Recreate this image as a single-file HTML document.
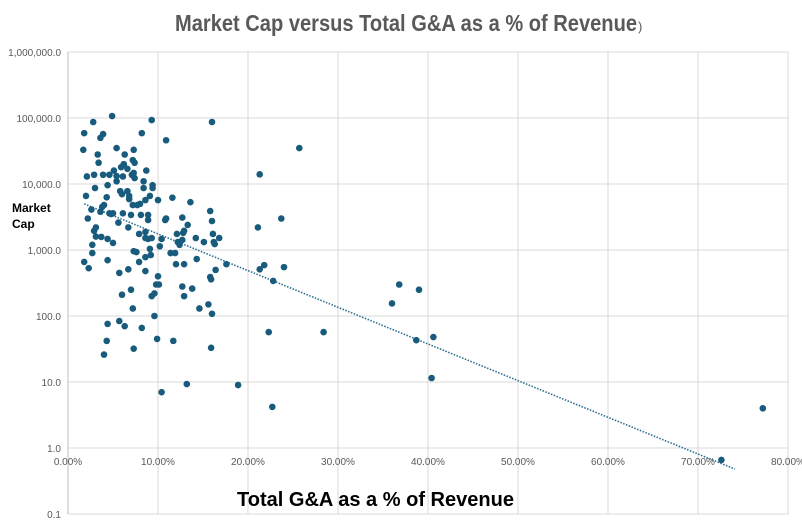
<!DOCTYPE html>
<html><head><meta charset="utf-8"><style>
body{margin:0;background:#fff;}
svg{display:block;font-family:"Liberation Sans",sans-serif;}
</style></head><body>
<svg id="chart" width="802" height="522" viewBox="0 0 802 522">
<text x="175" y="31" font-size="23" font-weight="bold" fill="#595959" textLength="462" lengthAdjust="spacingAndGlyphs">Market Cap versus Total G&amp;A as a % of Revenue</text>
<text x="638" y="31" font-size="13" fill="#595959">)</text>
<g id="grid"></g>
<g id="ticks"></g>
<path id="trend" fill="none" stroke="#2a6f92" stroke-width="1.6" stroke-dasharray="1.5,1.5"/>
<g id="pts"></g>
<text x="12" y="212" font-size="12" font-weight="bold" fill="#000"><tspan x="12">Market</tspan><tspan x="12" dy="16">Cap</tspan></text>
<text x="237" y="506" font-size="20" font-weight="bold" fill="#000" textLength="277" lengthAdjust="spacingAndGlyphs">Total G&amp;A as a % of Revenue</text>
</svg>
<script>
const xTicks=[0,10,20,30,40,50,60,70,80];
const yTicks=[1000000,100000,10000,1000,100,10,1,0.1];
const yTickLabels=["1,000,000.0","100,000.0","10,000.0","1,000.0","100.0","10.0","1.0","0.1"];
const trendX=[1.8,74.1];
const trendY=[5000,0.48];
const gaPct=[4.9,2.8,9.3,16.0,1.8,3.9,3.6,8.2,10.9,1.7,3.3,3.4,5.4,6.3,7.3,7.2,7.4,5.9,6.2,6.6,5.1,8.7,2.1,2.9,3.9,4.6,5.4,6.1,7.1,7.4,7.3,5.4,8.4,9.4,9.4,3.0,4.4,8.4,5.8,6.6,6.0,6.8,6.8,2.0,4.3,9.1,11.6,10.0,8.6,13.6,15.8,16.0,4.0,3.8,3.6,2.6,7.2,7.7,8.0,4.6,5.0,4.8,6.1,7.0,8.1,8.9,8.9,2.2,5.6,6.7,10.9,10.8,12.7,13.3,3.1,2.9,3.1,3.7,4.4,5.0,7.9,8.6,8.6,8.9,9.3,10.4,10.2,12.1,12.8,12.9,12.2,12.4,12.7,14.2,15.1,16.1,16.2,16.8,16.3,2.7,2.7,7.3,7.6,9.1,9.2,11.4,11.9,14.3,1.8,2.3,4.4,8.6,7.9,12.0,12.9,17.6,16.4,5.7,6.7,8.6,10.0,15.8,15.9,9.8,10.1,12.7,13.8,6.0,7.0,9.3,9.6,12.9,15.6,16.0,14.6,7.2,9.6,4.4,5.7,6.3,8.2,4.3,9.9,11.7,15.9,4.0,7.3,13.2,18.9,10.4,25.7,21.3,23.7,21.1,21.8,21.3,24.0,22.8,36.8,36.0,39.0,22.3,28.4,38.7,40.6,40.4,22.7,72.6,77.2];
const mcap=[107000,87000,93000,87000,59000,57000,50000,59000,46000,33000,28000,21000,35000,28000,33000,23000,21000,18000,20000,17000,16000,16000,13000,13800,13800,13800,13200,13000,13800,12300,14700,11000,11000,9600,8700,8700,9600,8700,7800,7800,7000,6600,5900,6600,6300,6600,6200,5700,5700,5300,3900,2750,4800,4500,3800,4100,4800,4800,5000,3600,3600,3500,3600,3400,3400,3400,2850,3000,2600,2200,3000,2850,3100,2400,2200,1950,1600,1580,1470,1280,1750,1880,1520,1470,1520,1470,1140,1750,1820,1950,1320,1200,1420,1520,1320,1750,1320,1520,1230,1200,900,960,930,1040,840,900,900,730,660,530,700,780,660,610,610,610,500,450,510,480,400,390,360,300,300,280,260,210,250,200,220,200,150,108,130,130,100,76,84,70,66,42,45,42,33,26,32,9.3,9,7,35000,14000,3000,2200,590,510,550,340,300,155,250,57,57,43,48,11.5,4.2,0.66,4.0];

const NS="http://www.w3.org/2000/svg";
const X0=68,XS=9,YTOP=52,DEC=66;
function xs(p){return X0+p*XS;}
function ys(v){return YTOP+(6-Math.log10(v))*DEC;}
function mk(t,a,parent){const e=document.createElementNS(NS,t);for(const k in a)e.setAttribute(k,a[k]);parent.appendChild(e);return e;}
const grid=document.getElementById('grid'),ticks=document.getElementById('ticks'),pts=document.getElementById('pts');
yTicks.forEach((v,i)=>{
  const l=mk('line',{x1:X0,x2:xs(80),y1:ys(v),y2:ys(v),stroke:'#d9d9d9','stroke-width':1},grid);
  
  
  const t=mk('text',{x:61,y:ys(v)+4,'text-anchor':'end','font-size':10,fill:'#595959'},ticks);
  
  
  t.textContent=yTickLabels[i];
});
xTicks.forEach((p,i)=>{
  const l=mk('line',{x1:xs(p),x2:xs(p),y1:ys(1000000),y2:ys(0.1),stroke:i===0?'#bfbfbf':'#d9d9d9','stroke-width':1},grid);
  
  
  const t=mk('text',{x:xs(p),y:ys(1)+17,'text-anchor':'middle','font-size':10,fill:'#595959'},ticks);
  
  
  t.textContent=p.toFixed(2)+'%';
});
document.getElementById('trend').setAttribute('d','M'+xs(trendX[0])+','+ys(trendY[0])+' L'+xs(trendX[1])+','+ys(trendY[1]));
gaPct.forEach((p,i)=>{
  const c=mk('circle',{cx:xs(p),cy:ys(mcap[i]),r:3.3,fill:'#195b7c'},pts);
  
  
});
</script>
</body></html>
